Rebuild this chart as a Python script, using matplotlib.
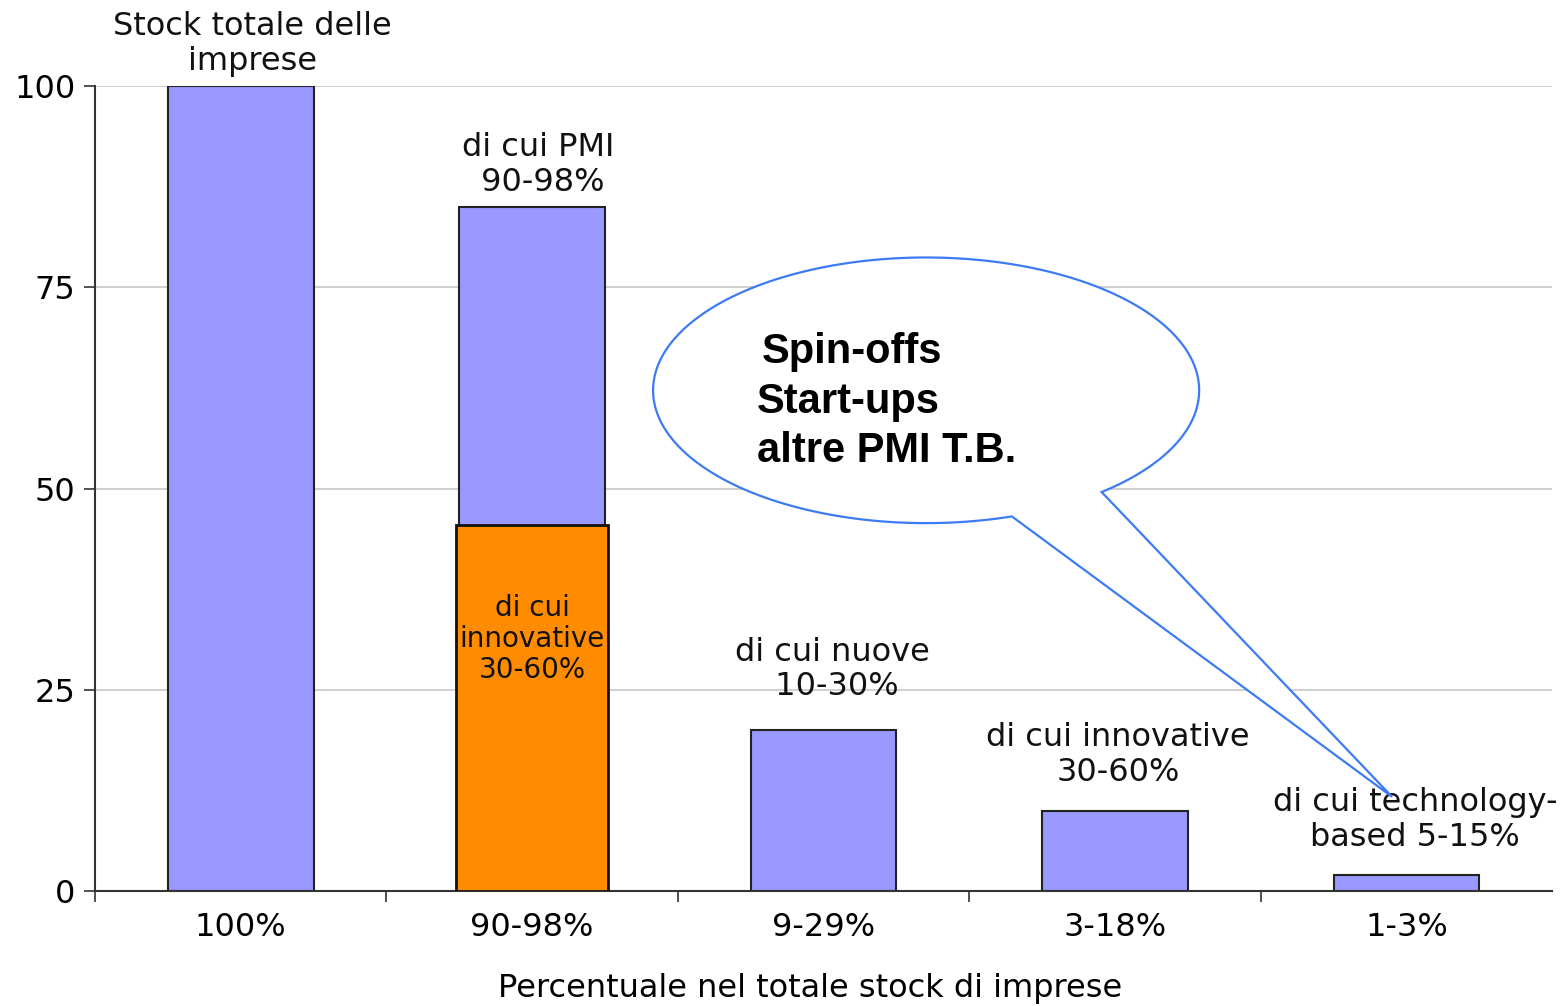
import numpy as np
import matplotlib
matplotlib.use("Agg")
import matplotlib.pyplot as plt
from matplotlib.path import Path
from matplotlib.patches import PathPatch

# data
categories = ["100%", "90-98%", "9-29%", "3-18%", "1-3%"]
values = [100, 85, 20, 10, 2]
innovative_value = 45.5  # orange overlay on the PMI bar
bar_labels = [
    "Stock totale delle\nimprese",
    "di cui PMI\n 90-98%",
    "di cui nuove\n 10-30%",
    "di cui innovative\n30-60%",
    "di cui technology-\nbased 5-15%",
]
label_y = [105.2, 90.2, 27.5, 16.9, 8.8]
label_dx = [0.04, 0.02, 0.03, 0.01, 0.03]
callout_lines = ["Spin-offs", "Start-ups", "altre PMI T.B."]

BLUE = "#9999ff"
ORANGE = "#ff8c00"
EDGE = "#222222"

plt.rcParams["font.family"] = ["DejaVu Sans"]

fig = plt.figure(figsize=(15.63, 10.06), dpi=100)
ax = fig.add_axes([0.0608, 0.1143, 0.9322, 0.8002])

x = np.arange(len(categories))
ax.bar(x, values, width=0.5, color=BLUE, edgecolor=EDGE, linewidth=1.5, zorder=2)
ax.bar(x[1], innovative_value, width=0.52, color=ORANGE, edgecolor="#111111",
       linewidth=2.0, zorder=3)

ax.set_xlim(-0.5, 4.5)
ax.set_ylim(0, 100)
ax.set_yticks([0, 25, 50, 75, 100])
ax.yaxis.grid(True, color="#c8c8c8", linewidth=1.2, zorder=0)
ax.set_axisbelow(True)

# boundary ticks without labels, category labels on minor ticks
ax.set_xticks(np.arange(-0.5, 4.0, 1.0))
ax.set_xticklabels([])
ax.set_xticks(x, minor=True)
ax.set_xticklabels(categories, minor=True)
ax.tick_params(axis="x", which="major", length=8, width=1.2, color="#333333")
ax.tick_params(axis="x", which="minor", length=0, pad=15, labelsize=23)
ax.tick_params(axis="y", length=8, width=1.2, color="#333333", labelsize=23, pad=6)

for side in ["top", "right"]:
    ax.spines[side].set_visible(False)
for side in ["left", "bottom"]:
    ax.spines[side].set_color("#333333")
    ax.spines[side].set_linewidth(1.5)

ax.set_xlabel("Percentuale nel totale stock di imprese", fontsize=23)
ax.xaxis.set_label_coords(0.491, -0.102)

for xi, txt, yy, dx in zip(x, bar_labels, label_y, label_dx):
    ax.text(xi + dx, yy, txt, ha="center", va="center", fontsize=23,
            linespacing=1.15, color="#111111", clip_on=False, zorder=5)

ax.text(x[1], 31.3, "di cui\ninnovative\n30-60%", ha="center", va="center",
        fontsize=20, linespacing=1.12, color="#111111", zorder=5)

# speech bubble callout (axes data coords)
cx, cy, rx, ry = 2.352, 62.2, 0.937, 16.5
a_start = np.deg2rad(-50)
a_end = np.deg2rad(288.3)
t = np.linspace(a_start, a_end, 200)
pts = list(zip(cx + rx * np.cos(t), cy + ry * np.sin(t)))
pts.append((3.951, 11.7))
pts.append(pts[0])
codes = [Path.MOVETO] + [Path.LINETO] * (len(pts) - 2) + [Path.CLOSEPOLY]
bubble = PathPatch(Path(pts, codes), facecolor="white", edgecolor="#3d7bf5",
                   linewidth=1.6, zorder=6, clip_on=False)
ax.add_patch(bubble)

callout_x = [1.789, 1.772, 1.772]
callout_y = [67.0, 60.8, 54.7]
for line, tx, ty in zip(callout_lines, callout_x, callout_y):
    ax.text(tx, ty, line, ha="left", va="center", fontsize=30, fontweight="bold",
            family=["Liberation Sans", "DejaVu Sans"], color="black", zorder=7)

fig.savefig("out.png", dpi=100)
